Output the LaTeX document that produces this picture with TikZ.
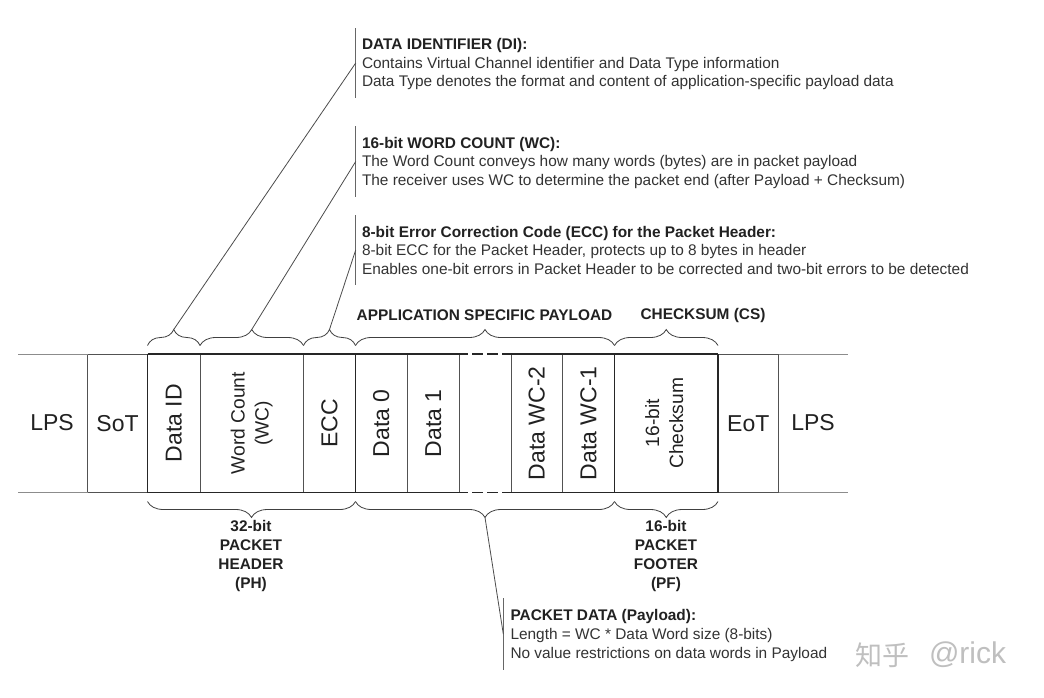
\documentclass[tikz,border=0pt]{standalone}
\usepackage{fontspec}
\usepackage{graphicx}
\setmainfont{Liberation Sans}
\newfontfamily\cjk{Noto Sans CJK SC}
\usetikzlibrary{decorations.pathreplacing}
\definecolor{ink}{gray}{0.13}
\definecolor{mid}{gray}{0.32}
\tikzset{
  x=1pt,y=-1pt,
  every node/.style={inner sep=0pt,outer sep=0pt,text=ink},
  cell/.style={draw=mid,line width=1pt,minimum height=138.5pt,anchor=north west,font=\fontsize{23}{26}\selectfont,align=center},
  smallcell/.style={cell,font=\fontsize{19.2}{24}\selectfont},
  thickline/.style={draw=black!85,line width=1.5pt},
  thinline/.style={draw=black!45,line width=0.7pt},
  dashline/.style={draw=black!85,line width=1.5pt,dash pattern=on 11pt off 4pt,dash phase=2.5pt},
  bracetop/.style={draw=black!75,line width=0.8pt,decorate,decoration={brace,amplitude=16pt}},
  bracebot/.style={draw=black!75,line width=0.8pt,decorate,decoration={brace,amplitude=16pt,mirror}},
  leader/.style={draw=black!70,line width=0.8pt},
  bar/.style={draw=black!60,line width=1pt},
  title/.style={anchor=base west,font=\fontsize{15.4}{18}\bfseries\selectfont},
  body/.style={anchor=base west,font=\fontsize{15.4}{18}\selectfont,text=black!80},
  foot/.style={align=center,font=\fontsize{15.4}{18.8}\bfseries\selectfont},
}
\begin{document}
\begin{tikzpicture}
\useasboundingbox (0,0) rectangle (1044,697);
\fill[white] (0,0) rectangle (1044,697);
% lines out to the sides
\coordinate (la) at (18,354); \coordinate (lb) at (18,492.5);
\coordinate (ra) at (848,354); \coordinate (rb) at (848,492.5);
% cells
\node[cell,minimum width=60pt] (sot) at (87.5,354) {SoT};
\node[cell,minimum width=52.5pt] (did) at (147.5,354) {\rotatebox{90}{Data ID}};
\node[smallcell,minimum width=103.5pt] (wc) at (200,354) {\rotatebox{90}{\begin{tabular}{@{}c@{}}Word Count\\(WC)\end{tabular}}};
\node[cell,minimum width=52pt] (ecc) at (303.5,354) {\rotatebox{90}{ECC}};
\node[cell,minimum width=51.5pt] (d0) at (355.5,354) {\rotatebox{90}{Data 0}};
\node[cell,minimum width=52.5pt] (d1) at (407,354) {\rotatebox{90}{Data 1}};
\node[cell,minimum width=51.5pt] (dm2) at (511,354) {\rotatebox{90}{Data WC-2}};
\node[cell,minimum width=52pt] (dm1) at (562.5,354) {\rotatebox{90}{Data WC-1}};
\node[smallcell,minimum width=103.5pt] (cs) at (614.5,354) {\rotatebox{90}{\begin{tabular}{@{}c@{}}16-bit\\Checksum\end{tabular}}};
\node[cell,minimum width=60.5pt] (eot) at (718,354) {EoT};
\node[font=\fontsize{23}{26}\selectfont] (lpsl) at (52,422.5) {LPS};
\node[font=\fontsize{23}{26}\selectfont] (lpsr) at (813,422.5) {LPS};
% rails
\draw[thinline] (la) -- (sot.north west);
\draw[thinline] (lb) -- (sot.south west);
\draw[thinline] (eot.north east) -- (ra);
\draw[thinline] (eot.south east) -- (rb);
\draw[thickline] (did.north west) -- (d1.north east);
\draw[thickline] (did.south west) -- (d1.south east);
\draw[thickline] (dm2.north west) -- (cs.north east);
\draw[thickline] (dm2.south west) -- (cs.south east);
\draw[dashline] (d1.north east) -- (dm2.north west);
\draw[dashline] (d1.south east) -- (dm2.south west);
\draw[thickline] (did.north west) -- (did.south west);
\draw[thickline] (d0.north west) -- (d0.south west);
\draw[thickline] (cs.north west) -- (cs.south west);
\draw[thickline] (cs.north east) -- (cs.south east);
% braces, top
\coordinate (t0) at (147.5,345.5); \coordinate (t1) at (200,345.5);
\coordinate (t2) at (303.5,345.5); \coordinate (t3) at (355.5,345.5);
\coordinate (t4) at (614.5,345.5); \coordinate (t5) at (718,345.5);
\draw[bracetop] (t0) -- coordinate[yshift=16pt] (tipa) (t1);
\draw[bracetop] (t1) -- coordinate[yshift=16pt] (tipb) (t2);
\draw[bracetop] (t2) -- coordinate[yshift=16pt] (tipc) (t3);
\draw[bracetop] (t3) -- (t4);
\draw[bracetop] (t4) -- (t5);
% braces, bottom
\coordinate (b0) at (147.5,501.5); \coordinate (b1) at (355.5,501.5);
\coordinate (b2) at (614.5,501.5); \coordinate (b3) at (718,501.5);
\draw[bracebot] (b0) -- (b1);
\draw[bracebot] (b1) -- coordinate[yshift=-16pt] (tipd) (b2);
\draw[bracebot] (b2) -- (b3);
% callout bars
\coordinate (ba) at (355.7,28); \coordinate (bb) at (355.7,98);
\coordinate (bc) at (355.7,126); \coordinate (bd) at (355.7,197);
\coordinate (be) at (355.7,215); \coordinate (bf) at (355.7,285);
\coordinate (bg) at (503.3,598); \coordinate (bh) at (503.3,670);
\draw[bar] (ba) -- coordinate (ma) (bb);
\draw[bar] (bc) -- coordinate (mb) (bd);
\draw[bar] (be) -- coordinate (mc) (bf);
\draw[bar] (bg) -- coordinate (md) (bh);
\draw[leader] (tipa) -- (ma);
\draw[leader] (tipb) -- (mb);
\draw[leader] (tipc) -- (mc);
\draw[leader] (tipd) -- (md);
% callout text
\node[title] (t1a) at (362,49.5) {DATA IDENTIFIER (DI):};
\node[body] (t1b) at (362,68) {Contains Virtual Channel identifier and Data Type information};
\node[body] (t1c) at (362,86.5) {Data Type denotes the format and content of application-specific payload data};
\node[title] (t2a) at (362,148) {16-bit WORD COUNT (WC):};
\node[body] (t2b) at (362,166.5) {The Word Count conveys how many words (bytes) are in packet payload};
\node[body] (t2c) at (362,185) {The receiver uses WC to determine the packet end (after Payload + Checksum)};
\node[title] (t3a) at (362,237) {8-bit Error Correction Code (ECC) for the Packet Header:};
\node[body] (t3b) at (362,255.5) {8-bit ECC for the Packet Header, protects up to 8 bytes in header};
\node[body] (t3c) at (362,274) {Enables one-bit errors in Packet Header to be corrected and two-bit errors to be detected};
\node[title] (t4a) at (510.5,620.5) {PACKET DATA (Payload):};
\node[body] (t4b) at (510.5,639.5) {Length = WC * Data Word size (8-bits)};
\node[body] (t4c) at (510.5,658) {No value restrictions on data words in Payload};
% brace labels
\node[title,anchor=base] (hpay) at (484.5,320) {APPLICATION SPECIFIC PAYLOAD};
\node[title,anchor=base] (hcs) at (703,319.5) {CHECKSUM (CS)};
\node[foot] (fph) at (251,556) {32-bit\\PACKET\\HEADER\\(PH)};
\node[foot] (fpf) at (666,556) {16-bit\\PACKET\\FOOTER\\(PF)};
% watermark
\node[anchor=west,font=\cjk\fontsize{27}{30}\selectfont,text=black!25] (wm) at (855,655) {知乎};
\node[anchor=west,font=\fontsize{30}{32}\selectfont,text=black!25] (wm2) at (929,655) {@rick};
\end{tikzpicture}
\end{document}
